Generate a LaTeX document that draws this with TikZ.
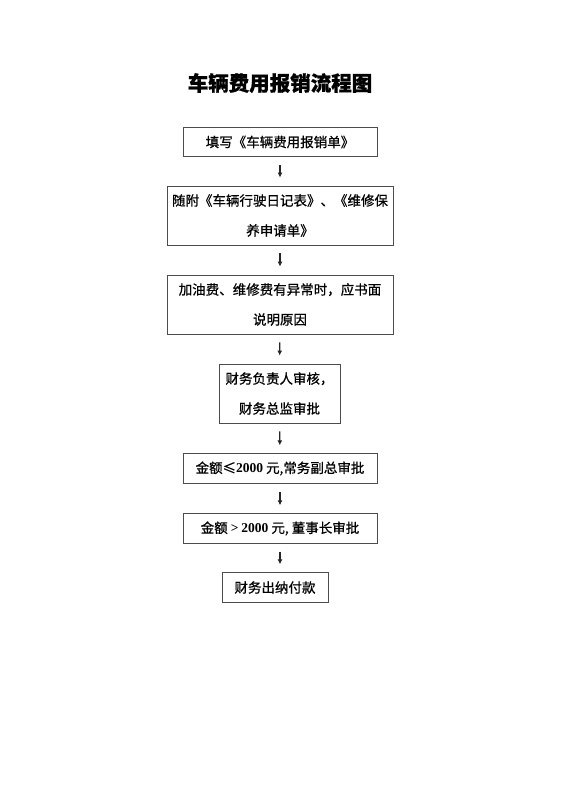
\documentclass[tikz,border=0pt]{standalone}
\usepackage{fontspec}
\usepackage{tikz}
\usetikzlibrary{arrows.meta}
\newfontfamily\cjk[FakeBold=0.8]{Noto Sans CJK SC}
\newfontfamily\numf{Liberation Serif}
\tikzset{
  stepnode/.style = {draw=black!70, line width=0.8pt, align=center, inner sep=0pt,
                     font=\cjk\fontsize{13.5}{30}\selectfont},
  onebox/.style = {stepnode, minimum height=29.5pt},
  twobox/.style = {stepnode, minimum height=59pt},
  flow/.style = {-{Latex[length=5pt,width=5pt]}, line width=1.2pt, black!85,
                 shorten <=8pt, shorten >=8pt}
}
\newcommand{\num}[1]{{\numf\bfseries #1}}

\begin{document}
\begin{tikzpicture}[x=1pt,y=-1pt]
\useasboundingbox (0,0) rectangle (560,792);
\node [font=\cjk\bfseries\fontsize{20.5}{24}\selectfont] (title) at (280,83) {车辆费用报销流程图};
\node [onebox, minimum width=194pt] (s1) at (280,142) {填写《车辆费用报销单》};
\node [twobox, minimum width=226pt] (s2) at (280,215.5) {随附《车辆行驶日记表》、《维修保\\养申请单》};
\node [twobox, minimum width=226pt] (s3) at (280,304.5) {加油费、维修费有异常时，应书面\\说明原因};
\node [twobox, minimum width=121pt] (s4) at (279.5,393.5) {财务负责人审核，\\财务总监审批};
\node [onebox, minimum width=194pt] (s5) at (280,468.5) {金额≤\num{2000} 元,常务副总审批};
\node [onebox, minimum width=194pt] (s6) at (280,528.5) {金额 \num{>} \num{2000} 元, 董事长审批};
\node [onebox, minimum width=106pt] (s7) at (275,587.5) {财务出纳付款};
% arrows between steps
\foreach \a/\b in {s1/s2, s2/s3, s3/s4, s4/s5, s5/s6}
  \draw [flow] (\a) -- (\b);
\draw [flow] (s6.south) -- (s6.south |- s7.north);
\end{tikzpicture}
\end{document}
